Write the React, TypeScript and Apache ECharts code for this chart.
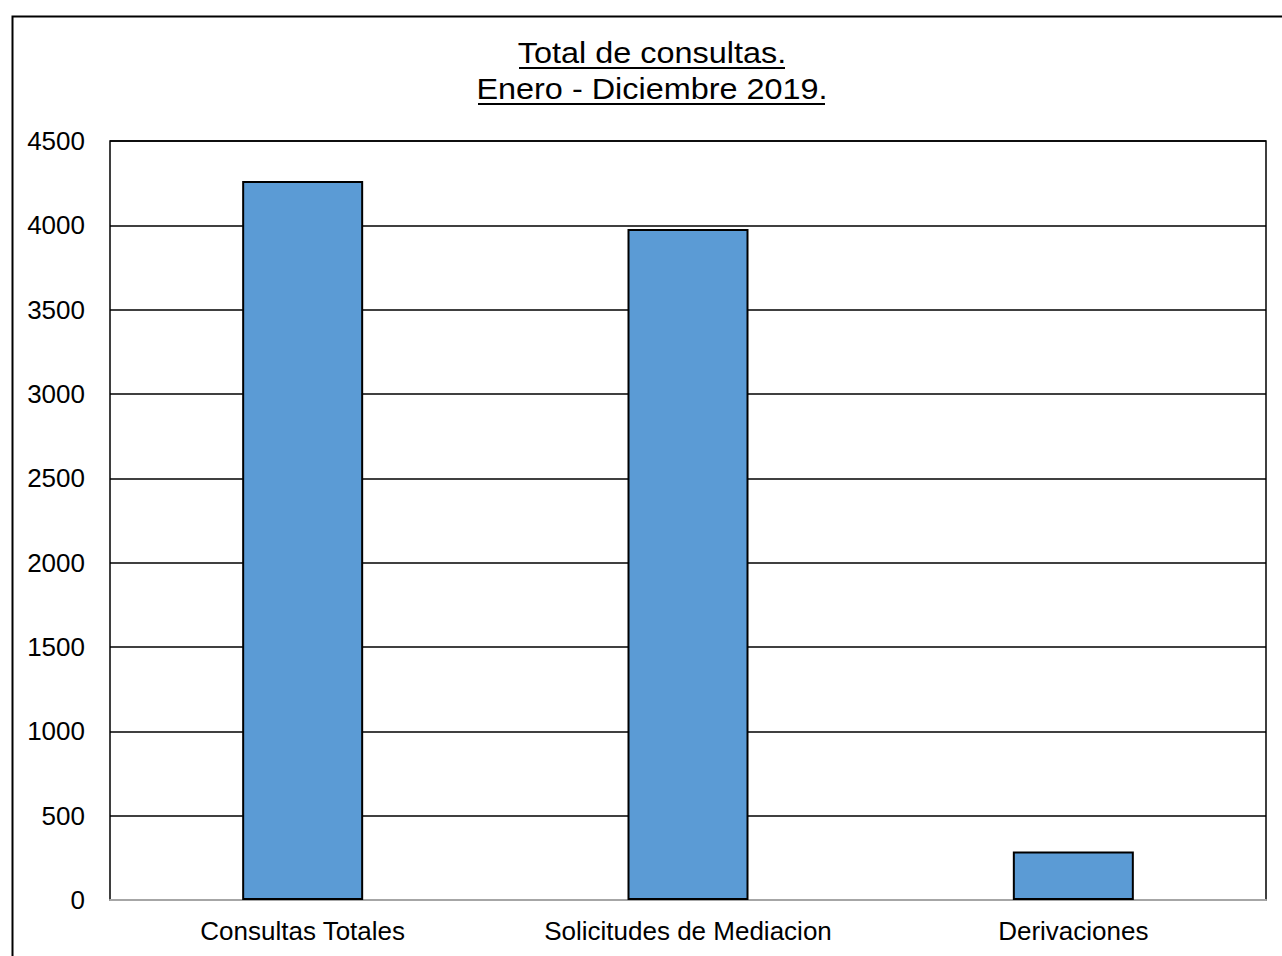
import React, { useEffect, useRef } from "react";
import * as echarts from "echarts";

const categories = ["Consultas Totales", "Solicitudes de Mediacion", "Derivaciones"];
const values = [4263, 3978, 287];
const titleLines = ["Total de consultas.", "Enero - Diciembre 2019."];
const yMin = 0;
const yMax = 4500;
const yStep = 500;

const FONT = "'Liberation Sans', Arial, sans-serif";

export default function App() {
  const ref = useRef<HTMLDivElement>(null);
  useEffect(() => {
    if (!ref.current) return;
    const chart = echarts.init(ref.current, null, { renderer: "svg" });
    chart.setOption({
      animation: false,
      backgroundColor: "#ffffff",
      grid: {
        left: 110,
        right: 16,
        top: 141,
        bottom: 56,
        show: true,
        borderColor: "#000000",
        borderWidth: 1.5,
        backgroundColor: "transparent",
      },
      xAxis: {
        type: "category",
        data: categories,
        axisLine: { show: true, lineStyle: { color: "#a6a6a6", width: 2 } },
        axisTick: { show: false },
        axisLabel: { color: "#000000", fontSize: 26, fontFamily: FONT, margin: 18 },
      },
      yAxis: {
        type: "value",
        min: yMin,
        max: yMax,
        interval: yStep,
        axisLine: { show: false },
        axisTick: { show: false },
        axisLabel: {
          color: "#000000",
          fontSize: 26,
          fontFamily: FONT,
          margin: 25,
          formatter: (v: number) => String(v),
        },
        splitLine: { show: true, lineStyle: { color: "#000000", width: 1.5 } },
      },
      series: [
        {
          type: "bar",
          data: values,
          barWidth: 121,
          itemStyle: { color: "#5b9bd5", borderColor: "#000000", borderWidth: 2 },
        },
      ],
      graphic: [
        {
          type: "rect",
          left: 10,
          top: 14,
          shape: { x: 0, y: 0, width: 1300, height: 1000 },
          style: { fill: "none", stroke: "#000000", lineWidth: 2 },
          silent: true,
        },
        {
          type: "text",
          x: 652,
          y: 53,
          scaleX: 1.08,
          style: {
            text: titleLines[0],
            fontSize: 30,
            fontFamily: FONT,
            fill: "#000000",
            align: "center",
            verticalAlign: "middle",
          },
        },
        {
          type: "text",
          x: 652,
          y: 89,
          scaleX: 1.08,
          style: {
            text: titleLines[1],
            fontSize: 30,
            fontFamily: FONT,
            fill: "#000000",
            align: "center",
            verticalAlign: "middle",
          },
        },
        {
          type: "rect",
          shape: { x: 519, y: 67, width: 266, height: 2 },
          style: { fill: "#000000" },
        },
        {
          type: "rect",
          shape: { x: 478, y: 103, width: 347, height: 2 },
          style: { fill: "#000000" },
        },
      ],
    });
    return () => chart.dispose();
  }, []);
  return (
    <div
      ref={ref}
      style={{ position: "absolute", left: 0, top: 0, width: 1282, height: 956 }}
    />
  );
}
